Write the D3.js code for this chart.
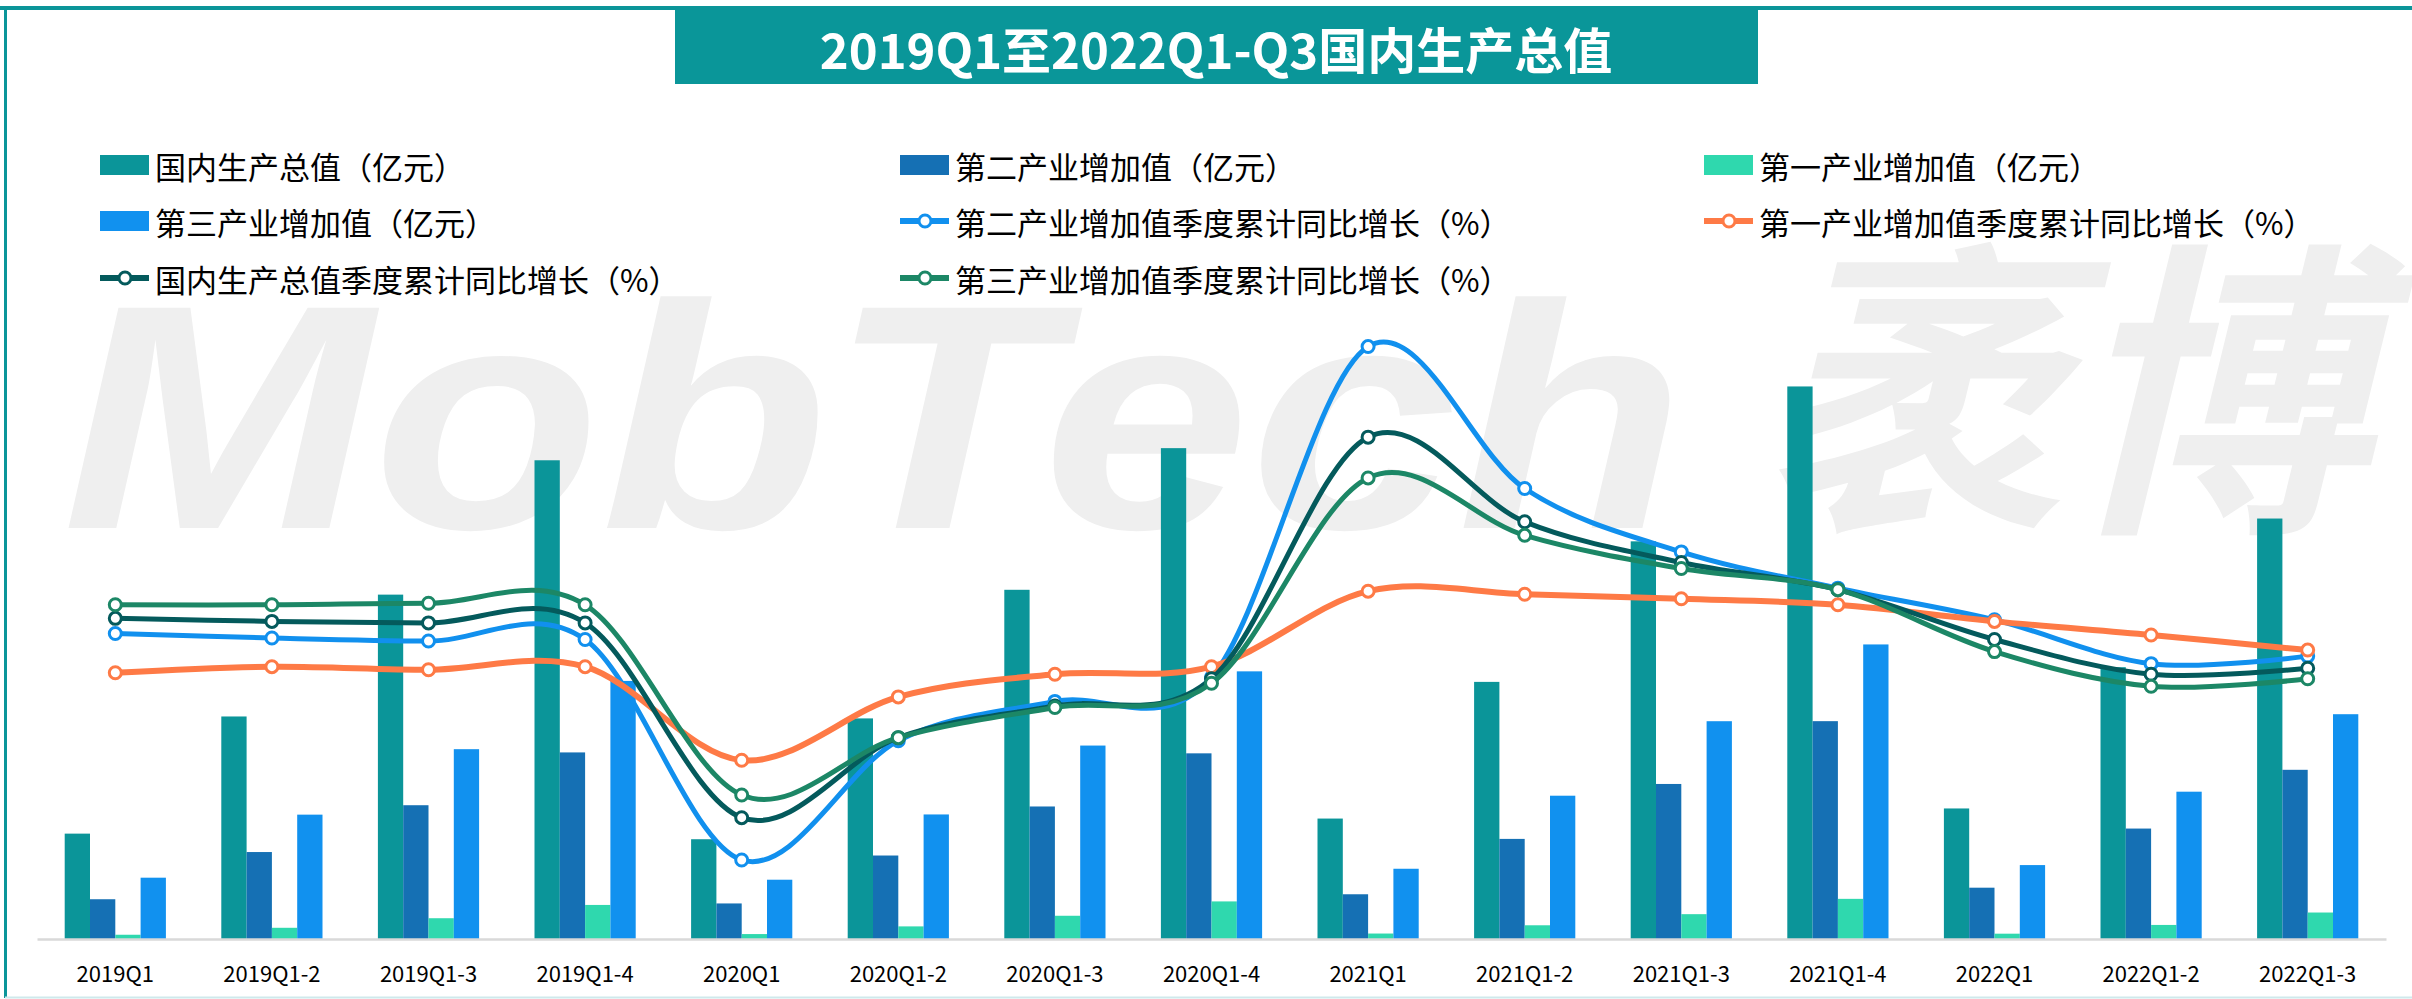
<!DOCTYPE html>
<html>
<head>
<meta charset="utf-8">
<script src="https://cdn.jsdelivr.net/npm/d3@7"></script>
<style>
  body { margin: 0; background: #fff; }
  svg { display: block; font-family: "Microsoft YaHei", "Noto Sans CJK SC", sans-serif; }
</style>
</head>
<body>
<div id="chart"></div>
<script>
// Categories (x axis)
const quarters = ["2019Q1", "2019Q1-2", "2019Q1-3", "2019Q1-4", "2020Q1", "2020Q1-2", "2020Q1-3", "2020Q1-4",
  "2021Q1", "2021Q1-2", "2021Q1-3", "2021Q1-4", "2022Q1", "2022Q1-2", "2022Q1-3"];

// Bar series (亿元)
const gdpValue = [218100, 460600, 712800, 990900, 206500, 456600, 722800, 1016000, 249300, 532200, 823100, 1143700, 270200, 562600, 870300];
const secondValue = [82300, 180000, 276900, 386200, 73600, 172800, 274300, 384300, 92600, 207200, 320900, 450900, 106200, 228600, 350200];
const firstValue = [8800, 23200, 43000, 70500, 10200, 26100, 48100, 77800, 11300, 28400, 51400, 83100, 11000, 29100, 54800];
const thirdValue = [126900, 257400, 392900, 534200, 122700, 257800, 400400, 554000, 145400, 296600, 450800, 609700, 153000, 304900, 465300];

// Line series (%)
const secondGrowth = [5.4, 5.1, 4.9, 5.0, -9.6, -1.7, 0.9, 2.5, 24.4, 15.0, 10.8, 8.4, 6.3, 3.4, 3.9];
const firstGrowth = [2.8, 3.2, 3.0, 3.2, -3.0, 1.2, 2.7, 3.2, 8.2, 8.0, 7.7, 7.3, 6.2, 5.3, 4.3];
const gdpGrowth = [6.4, 6.2, 6.1, 6.1, -6.8, -1.5, 0.6, 2.4, 18.4, 12.8, 10.1, 8.3, 5.0, 2.7, 3.1];
const thirdGrowth = [7.3, 7.3, 7.4, 7.3, -5.3, -1.5, 0.5, 2.1, 15.7, 11.9, 9.7, 8.3, 4.2, 1.9, 2.4];

const barSeries = [
  { name: "国内生产总值（亿元）", values: gdpValue, color: "#0b9599" },
  { name: "第二产业增加值（亿元）", values: secondValue, color: "#1570b4" },
  { name: "第一产业增加值（亿元）", values: firstValue, color: "#2fd8ae" },
  { name: "第三产业增加值（亿元）", values: thirdValue, color: "#1191ef" }
];
const lineSeries = [
  { name: "第二产业增加值季度累计同比增长（%）", values: secondGrowth, color: "#1190ee", width: 5 },
  { name: "第一产业增加值季度累计同比增长（%）", values: firstGrowth, color: "#fe7a46", width: 6 },
  { name: "国内生产总值季度累计同比增长（%）", values: gdpGrowth, color: "#045a5c", width: 5 },
  { name: "第三产业增加值季度累计同比增长（%）", values: thirdGrowth, color: "#1c8766", width: 5 }
];

const width = 2412, height = 999;
const svg = d3.select("#chart").append("svg").attr("width", width).attr("height", height);

// Frame
svg.append("line").attr("x1", 0).attr("x2", width).attr("y1", 8).attr("y2", 8)
  .attr("stroke", "#0b9599").attr("stroke-width", 4);
svg.append("line").attr("x1", 5.5).attr("x2", 5.5).attr("y1", 6).attr("y2", 998)
  .attr("stroke", "#0b9599").attr("stroke-width", 3);
svg.append("line").attr("x1", 5).attr("x2", width).attr("y1", 997.5).attr("y2", 997.5)
  .attr("stroke", "#cfe9ec").attr("stroke-width", 2);

// Watermark (behind everything)
const wm = svg.append("g").attr("fill", "#efefef").style("font-weight", "bold").style("font-style", "italic");
wm.append("text").attr("x", 62).attr("y", 528).attr("font-size", 320)
  .attr("textLength", 1623).attr("lengthAdjust", "spacingAndGlyphs")
  .style("font-family", "'Liberation Sans', Arial, sans-serif").text("MobTech");
wm.append("text").attr("x", 1762).attr("y", 508).attr("font-size", 310)
  .attr("textLength", 607).attr("lengthAdjust", "spacingAndGlyphs").text("袤博");

// Title
svg.append("rect").attr("x", 675).attr("y", 10).attr("width", 1083).attr("height", 74).attr("fill", "#0a9699");
svg.append("text").attr("x", 1216).attr("y", 47).attr("text-anchor", "middle").attr("dominant-baseline", "central")
  .attr("fill", "#fff").attr("font-size", 49).attr("font-weight", "bold")
  .text("2019Q1至2022Q1-Q3国内生产总值");

// Scales
const x = d3.scaleBand().domain(quarters).range([37, 2386]);
const xInner = d3.scaleBand().domain(d3.range(4)).range([-50.6, 50.6]);
const yBar = d3.scaleLinear().domain([0, 1600000]).range([939, 166]);
const yLine = d3.scaleLinear().domain([-15, 35]).range([941.5, 186.5]);

// Bars
const barGroups = svg.append("g").selectAll("g").data(barSeries).join("g").attr("fill", d => d.color);
barGroups.each(function(s, si) {
  d3.select(this).selectAll("rect").data(s.values).join("rect")
    .attr("x", (d, i) => x(quarters[i]) + x.bandwidth() / 2 + xInner(si))
    .attr("width", xInner.bandwidth())
    .attr("y", d => yBar(d))
    .attr("height", d => yBar(0) - yBar(d));
});

// X axis
const xAxis = svg.append("g").attr("transform", "translate(0,939)")
  .call(d3.axisBottom(x).tickSize(0).tickPadding(27));
xAxis.select(".domain").attr("stroke", "#d9d9d9").attr("stroke-width", 2.5);
xAxis.selectAll("text").attr("font-size", 22).attr("fill", "#000")
  .style("font-family", "'Microsoft YaHei', 'Noto Sans CJK SC', sans-serif");

// Lines
const line = d3.line()
  .x((d, i) => x(quarters[i]) + x.bandwidth() / 2)
  .y(d => yLine(d))
  .curve(d3.curveCatmullRom.alpha(0));

const lineGroups = svg.append("g").selectAll("g").data(lineSeries).join("g");
lineGroups.append("path")
  .attr("d", d => line(d.values))
  .attr("fill", "none")
  .attr("stroke", d => d.color)
  .attr("stroke-width", d => d.width);
lineGroups.each(function(s) {
  d3.select(this).selectAll("circle").data(s.values).join("circle")
    .attr("cx", (d, i) => x(quarters[i]) + x.bandwidth() / 2)
    .attr("cy", d => yLine(d))
    .attr("r", 6)
    .attr("fill", "#fff")
    .attr("stroke", s.color)
    .attr("stroke-width", 3);
});

// Legend
const legendItems = [
  { item: barSeries[0], type: "bar" }, { item: barSeries[1], type: "bar" }, { item: barSeries[2], type: "bar" },
  { item: barSeries[3], type: "bar" }, { item: lineSeries[0], type: "line" }, { item: lineSeries[1], type: "line" },
  { item: lineSeries[2], type: "line" }, { item: lineSeries[3], type: "line" }
];
const colX = [100, 900, 1704];
const rowY = [165, 221, 278];

const legend = svg.append("g").selectAll("g").data(legendItems).join("g")
  .attr("transform", (d, i) => `translate(${colX[i % 3]},${rowY[Math.floor(i / 3)]})`);
legend.filter(d => d.type === "bar").append("rect")
  .attr("x", 0).attr("y", -10).attr("width", 49).attr("height", 20).attr("fill", d => d.item.color);
legend.filter(d => d.type === "line").append("line")
  .attr("x1", 0).attr("x2", 49).attr("y1", 0).attr("y2", 0)
  .attr("stroke", d => d.item.color).attr("stroke-width", 6);
legend.filter(d => d.type === "line").append("circle")
  .attr("cx", 25).attr("cy", 0).attr("r", 6).attr("fill", "#fff")
  .attr("stroke", d => d.item.color).attr("stroke-width", 3);
legend.append("text").attr("x", 55).attr("y", 0).attr("dominant-baseline", "central")
  .attr("font-size", 31).attr("fill", "#000").text(d => d.item.name);
</script>
</body>
</html>
